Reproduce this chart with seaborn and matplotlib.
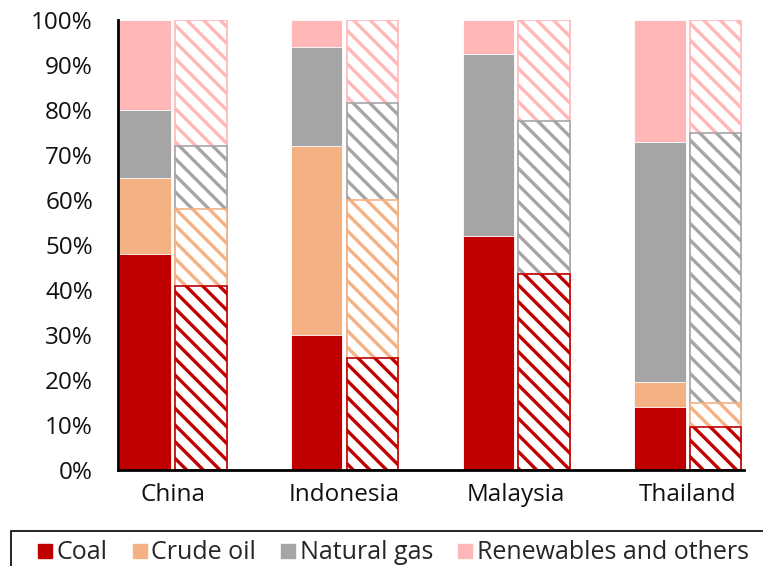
import matplotlib
matplotlib.use("Agg")
import matplotlib.pyplot as plt
from matplotlib.lines import Line2D
from matplotlib.patches import Rectangle
import numpy as np
import pandas as pd
import seaborn as sns

# Primary energy mix by fuel (% share), two periods per country
countries = ["China", "Indonesia", "Malaysia", "Thailand"]
periods = ["Current", "Projected"]
fuels = ["Coal", "Crude oil", "Natural gas", "Renewables and others"]

coal_current = [48, 30, 52, 14]
oil_current = [17, 42, 0, 5.5]
gas_current = [15, 22, 40.5, 53.5]
renew_current = [20, 6, 7.5, 27]

coal_projected = [41, 25, 43.5, 9.5]
oil_projected = [17, 35, 0, 5.5]
gas_projected = [14, 21.5, 34, 60]
renew_projected = [28, 18.5, 22.5, 25]

fuel_colors = ["#C00000", "#F4B183", "#A5A5A5", "#FFB7B7"]

sns.set_style("white")
plt.rcParams["font.family"] = ["Open Sans", "DejaVu Sans"]
plt.rcParams["hatch.linewidth"] = 2.4

rows = []
series = {
    "Current": [coal_current, oil_current, gas_current, renew_current],
    "Projected": [coal_projected, oil_projected, gas_projected, renew_projected],
}
for period, values in series.items():
    for fuel, vals in zip(fuels, values):
        for country, v in zip(countries, vals):
            rows.append({"country": country, "period": period, "fuel": fuel, "share": v})
df = pd.DataFrame(rows)
df["fuel"] = pd.Categorical(df["fuel"], categories=fuels, ordered=True)
df = df.sort_values(["period", "country", "fuel"])
df["top"] = df.groupby(["period", "country"], observed=True)["share"].cumsum()

fig = plt.figure(figsize=(7.63, 5.66), dpi=100)
ax = fig.add_axes([0.1547, 0.1696, 0.821, 0.795])

# Stack by drawing cumulative totals from the top layer down
for fuel, color in reversed(list(zip(fuels, fuel_colors))):
    sub = df[df["fuel"] == fuel]
    sns.barplot(
        data=sub, x="country", y="top", hue="period",
        order=countries, hue_order=periods,
        palette={p: color for p in periods},
        width=0.65, gap=0.08, errorbar=None, legend=False,
        edgecolor="white", linewidth=0.6, saturation=1, ax=ax,
    )
    # second period drawn as hatched outline bars
    for bar in ax.containers[-1]:
        bar.set_facecolor("white")
        bar.set_hatch("\\\\")
        bar.set_edgecolor(color)
        bar.set_linewidth(1.2)

ax.set_xlim(-0.32, 3.33)
ax.set_ylim(0, 100)
ax.set_yticks(np.arange(0, 101, 10))
ax.set_yticklabels([f"{v}%" for v in range(0, 101, 10)])
ax.set_xlabel("")
ax.set_ylabel("")
ax.tick_params(axis="y", length=0, pad=18, labelsize=17.5, colors="#111111")
ax.tick_params(axis="x", length=0, pad=9, labelsize=17.5, colors="#111111")
for side in ["top", "right"]:
    ax.spines[side].set_visible(False)
for side in ["left", "bottom"]:
    ax.spines[side].set_color("black")
    ax.spines[side].set_linewidth(2)

handles = [Line2D([], [], marker="s", linestyle="", markersize=10.5, color=c) for c in fuel_colors]
fig.legend(
    handles, fuels, loc="center left", bbox_to_anchor=(0.049, 0.023),
    ncol=4, frameon=False, handlelength=0.6, handletextpad=0.15,
    columnspacing=1.0, fontsize=18, borderpad=0, borderaxespad=0,
)
fig.add_artist(Rectangle((11 / 763, -0.05), 1.1, 0.111, transform=fig.transFigure,
                         fill=False, edgecolor="black", linewidth=1.2, clip_on=False))

fig.savefig("out.png", dpi=100)
